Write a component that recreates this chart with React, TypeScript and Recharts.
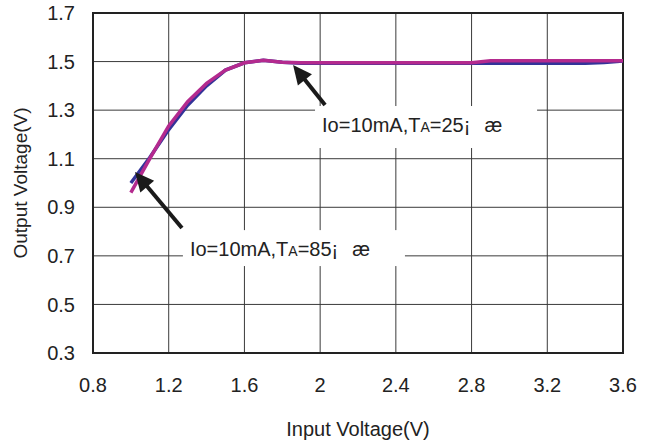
import React from 'react';
import { LineChart, Line, XAxis, YAxis, CartesianGrid, ReferenceArea, ReferenceLine } from 'recharts';

const inputVoltage = [1.0, 1.1, 1.2, 1.3, 1.4, 1.5, 1.6, 1.7, 1.8, 1.9, 2.0, 2.1, 2.2, 2.3, 2.4, 2.5, 2.6, 2.7, 2.8, 2.9, 3.0, 3.1, 3.2, 3.3, 3.4, 3.5, 3.6];
const outputTa85 = [1.0, 1.105, 1.22, 1.32, 1.4, 1.465, 1.495, 1.505, 1.497, 1.493, 1.493, 1.493, 1.493, 1.493, 1.493, 1.493, 1.493, 1.493, 1.493, 1.493, 1.493, 1.493, 1.493, 1.493, 1.493, 1.496, 1.502];
const outputTa25 = [0.96, 1.1, 1.235, 1.335, 1.41, 1.465, 1.495, 1.505, 1.497, 1.495, 1.495, 1.495, 1.495, 1.495, 1.495, 1.495, 1.495, 1.495, 1.495, 1.503, 1.503, 1.503, 1.503, 1.503, 1.503, 1.503, 1.503];
const xTicks = [0.8, 1.2, 1.6, 2, 2.4, 2.8, 3.2, 3.6];
const yTicks = [0.3, 0.5, 0.7, 0.9, 1.1, 1.3, 1.5, 1.7];

const data = inputVoltage.map((x, i) => ({ x, ta85: outputTa85[i], ta25: outputTa25[i] }));

const FONT = '"Liberation Sans", Arial, sans-serif';

const makeBox = (temp: string) => (props: any) => {
  const { x, y, width, height } = props;
  return (
    <g>
      <rect x={x} y={y} width={width} height={height} fill="#fff" stroke="none" />
      <text x={x + 7} y={y + 26} fontFamily={FONT} fontSize={20} fill="#222">
        Io=10mA,T<tspan fontSize={14}>A</tspan>={temp}¡<tspan dx={14}>æ</tspan>
      </text>
    </g>
  );
};

const arrowShape = (props: any) => {
  const { x1, y1, x2, y2 } = props;
  const dx = x2 - x1;
  const dy = y2 - y1;
  const len = Math.sqrt(dx * dx + dy * dy);
  const ux = dx / len;
  const uy = dy / len;
  const hl = 19;
  const hw = 9;
  const bx = x2 - ux * hl;
  const by = y2 - uy * hl;
  const pts = `${x2},${y2} ${bx - uy * hw},${by + ux * hw} ${bx + uy * hw},${by - ux * hw}`;
  return (
    <g>
      <line x1={x1} y1={y1} x2={bx + ux * 2} y2={by + uy * 2} stroke="#1a1a1a" strokeWidth={4} />
      <polygon points={pts} fill="#1a1a1a" />
    </g>
  );
};

export default function App() {
  return (
    <div style={{ width: 654, height: 443 }}>
      <style>{'body{margin:0}'}</style>
      <LineChart width={654} height={443} data={data} margin={{ top: 13, right: 31, bottom: 0, left: 0 }}>
        <CartesianGrid stroke="#3a3a3a" strokeWidth={1} />
        <XAxis
          dataKey="x"
          type="number"
          domain={[0.8, 3.6]}
          ticks={xTicks}
          height={90}
          axisLine={false}
          tickLine={false}
          tickSize={0}
          tickMargin={25}
          tick={{ fontFamily: FONT, fontSize: 20, fill: '#222' }}
          label={{ value: 'Input Voltage(V)', position: 'insideBottom', offset: 7, style: { fontFamily: FONT, fontSize: 20, fill: '#222' } }}
        />
        <YAxis
          type="number"
          domain={[0.3, 1.7]}
          ticks={yTicks}
          width={93}
          axisLine={false}
          tickLine={false}
          tickSize={0}
          tickMargin={18}
          tick={{ fontFamily: FONT, fontSize: 20, fill: '#222' }}
          label={{ value: 'Output Voltage(V)', angle: -90, position: 'insideLeft', offset: 20, style: { fontFamily: FONT, fontSize: 19, fill: '#222', textAnchor: 'middle' } }}
        />
        <ReferenceArea x1={1.973} x2={3.146} y1={1.144} y2={1.317} shape={makeBox('25')} />
        <ReferenceArea x1={1.275} x2={2.448} y1={0.658} y2={0.806} shape={makeBox('85')} />
        <Line type="linear" dataKey="ta85" stroke="#333399" strokeWidth={3.5} dot={false} isAnimationActive={false} />
        <Line type="linear" dataKey="ta25" stroke="#B42A8E" strokeWidth={3.5} dot={false} isAnimationActive={false} />
        <ReferenceLine segment={[{ x: 2.026, y: 1.321 }, { x: 1.857, y: 1.486 }]} shape={arrowShape} />
        <ReferenceLine segment={[{ x: 1.27, y: 0.815 }, { x: 1.022, y: 1.045 }]} shape={arrowShape} />
        <ReferenceArea x1={0.8} x2={3.6} y1={0.3} y2={1.7} fill="none" stroke="#222" strokeWidth={2} />
      </LineChart>
    </div>
  );
}
